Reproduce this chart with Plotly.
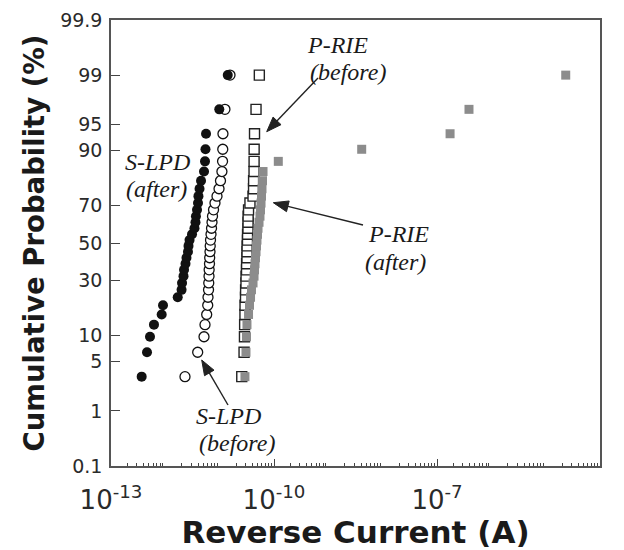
import math
import plotly.graph_objects as go
from statistics import NormalDist

# ---------------- data ----------------
cum_prob = [3.2, 6.5, 9.7, 12.9, 16.1, 19.4, 22.6, 25.8, 29.0, 32.3, 35.5,
            38.7, 41.9, 45.2, 48.4, 51.6, 54.8, 58.1, 61.3, 64.5, 67.7, 71.0,
            74.2, 77.4, 80.6, 83.9, 87.1, 90.3, 93.5, 96.8, 99.0]

slpd_after = [3.67e-13, 4.60e-13, 5.22e-13, 6.18e-13, 8.57e-13, 9.06e-13,
              1.69e-12, 1.99e-12, 2.03e-12, 2.16e-12, 2.21e-12, 2.35e-12,
              2.45e-12, 2.61e-12, 2.67e-12, 2.79e-12, 3.10e-12, 3.44e-12,
              3.59e-12, 3.66e-12, 3.83e-12, 3.99e-12, 4.07e-12, 4.26e-12,
              4.54e-12, 5.15e-12, 5.37e-12, 5.48e-12, 5.61e-12, 9.84e-12,
              1.41e-11]

slpd_before = [2.30e-12, 3.94e-12, 5.15e-12, 5.37e-12, 5.77e-12, 6.03e-12,
               6.10e-12, 6.24e-12, 6.30e-12, 6.37e-12, 6.40e-12, 6.50e-12,
               6.55e-12, 6.64e-12, 6.70e-12, 6.78e-12, 6.93e-12, 7.08e-12,
               7.23e-12, 7.38e-12, 7.71e-12, 8.20e-12, 8.93e-12, 9.73e-12,
               1.035e-11, 1.10e-11, 1.13e-11, 1.14e-11, 1.15e-11, 1.25e-11,
               1.55e-11]

prie_before = [2.55e-11, 2.81e-11, 2.86e-11, 2.88e-11, 2.92e-11, 2.93e-11,
               2.99e-11, 3.00e-11, 3.05e-11, 3.06e-11, 3.12e-11, 3.13e-11,
               3.18e-11, 3.19e-11, 3.20e-11, 3.25e-11, 3.26e-11, 3.32e-11,
               3.33e-11, 3.34e-11, 3.40e-11, 3.61e-11, 4.11e-11, 4.20e-11,
               4.21e-11, 4.29e-11, 4.30e-11, 4.31e-11, 4.38e-11, 4.67e-11,
               5.37e-11]

prie_after = [2.92e-11, 3.05e-11, 3.12e-11, 3.18e-11, 3.40e-11, 3.54e-11,
              3.70e-11, 3.85e-11, 4.11e-11, 4.29e-11, 4.38e-11, 4.47e-11,
              4.57e-11, 4.67e-11, 4.76e-11, 4.86e-11, 4.97e-11, 5.08e-11,
              5.30e-11, 5.52e-11, 5.65e-11, 5.77e-11, 5.89e-11, 6.01e-11,
              6.15e-11, 6.28e-11, 1.20e-10, 4.11e-9, 1.74e-7, 3.88e-7,
              2.34e-5]

prob_ticks = [0.1, 1, 5, 10, 30, 50, 70, 90, 95, 99, 99.9]
prob_tick_labels = ["0.1", "1", "5", "10", "30", "50", "70", "90", "95", "99", "99.9"]
decades = list(range(-13, -3))
labeled_decades = [-13, -10, -7, -4]

# ---------------- helpers ----------------
nd = NormalDist()


def probit(p):
    return nd.inv_cdf(p / 100.0)


z = [probit(p) for p in cum_prob]

fig = go.Figure()

# draw order: open circles, filled circles, open squares, gray squares
fig.add_trace(go.Scatter(
    x=slpd_before, y=z, mode="markers", name="S-LPD (before)",
    marker=dict(symbol="circle", size=10, color="white",
                line=dict(color="#111", width=1.3))))
fig.add_trace(go.Scatter(
    x=slpd_after, y=z, mode="markers", name="S-LPD (after)",
    marker=dict(symbol="circle", size=10, color="#111",
                line=dict(color="#111", width=0))))
fig.add_trace(go.Scatter(
    x=prie_before, y=z, mode="markers", name="P-RIE (before)",
    marker=dict(symbol="square", size=10, color="white",
                line=dict(color="#222", width=1.4))))
fig.add_trace(go.Scatter(
    x=prie_after, y=z, mode="markers", name="P-RIE (after)",
    marker=dict(symbol="square", size=9, color="#8c8c8c",
                line=dict(color="#8c8c8c", width=0))))

L, R, T, B = 111, 24, 20, 84
W, H = 624, 550
pw, ph = W - L - R, H - T - B


def px(xp):
    return (xp - L) / pw


def py(yp):
    return (H - B - yp) / ph


tick_font = dict(family="DejaVu Sans", size=26, color="#2a2a2a")
ytick_font = dict(family="DejaVu Sans", size=19, color="#2a2a2a")

fig.update_layout(
    xaxis=dict(
        type="log", range=[-13, -4],
        tickvals=[10.0 ** e for e in labeled_decades],
        ticktext=["10<sup>%d</sup>" % e for e in labeled_decades],
        ticks="inside", ticklen=7, tickwidth=1.2, tickcolor="#444",
        minor=dict(tickvals=[k * 10.0 ** e for e in decades[:-1] for k in range(2, 10)],
                   ticks="inside", ticklen=3.5, tickwidth=1, tickcolor="#444",
                   showgrid=False),
        showline=True, mirror=True, linecolor="#555", linewidth=1.5,
        showgrid=False, zeroline=False,
        tickfont=tick_font, ticklabelstandoff=10,
        title=dict(text="<b>Reverse Current (A)</b>",
                   font=dict(family="DejaVu Sans", size=31, color="#1a1a1a"), standoff=12),
    ),
    xaxis2=dict(
        type="log", range=[-13, -4], overlaying="x", anchor="y", side="bottom",
        tickvals=[10.0 ** e for e in decades],
        ticks="inside", ticklen=7, tickwidth=1.2, tickcolor="#444",
        showticklabels=False, showline=False, showgrid=False, zeroline=False,
    ),
    yaxis=dict(
        range=[probit(0.1), probit(99.9)],
        tickvals=[probit(p) for p in prob_ticks],
        ticktext=prob_tick_labels,
        ticks="inside", ticklen=9, tickwidth=1.2, tickcolor="#444",
        showline=True, mirror=True, linecolor="#555", linewidth=1.5,
        showgrid=False, zeroline=False,
        tickfont=ytick_font, ticklabelstandoff=3,
        title=dict(text="<b>Cumulative Probability (%)</b>",
                   font=dict(family="DejaVu Sans", size=27.5, color="#1a1a1a"), standoff=8),
    ),
)

label_font = dict(family="Liberation Serif", size=24, color="#1a1a1a")
labels = [
    ("S-LPD", 157, 162), ("(after)", 156, 189),
    ("P-RIE", 337, 45), ("(before)", 348, 72),
    ("P-RIE", 398, 234), ("(after)", 395, 262),
    ("S-LPD", 228, 416), ("(before)", 237, 443),
]
annotations = []
for txt, xx, yy in labels:
    annotations.append(dict(text="<i>%s</i>" % txt, x=px(xx), y=py(yy),
                            xref="paper", yref="paper", showarrow=False,
                            xanchor="center", yanchor="middle", font=label_font))

# arrows drawn as a line + filled triangular head (pixel geometry -> paper)
arrows = [((266.7, 131.7), (318, 78)),
          ((273.3, 202.7), (363, 225)),
          ((201.7, 360), (228, 405))]
head_len, head_half = 15, 5.5
shapes = []
for (tx, ty), (sx, sy) in arrows:
    dx, dy = tx - sx, ty - sy
    n = math.hypot(dx, dy)
    ux, uy = dx / n, dy / n
    bx, by = tx - ux * head_len, ty - uy * head_len
    nx, ny = -uy, ux
    shapes.append(dict(type="line", xref="paper", yref="paper",
                       x0=px(sx), y0=py(sy), x1=px(bx + ux * 2), y1=py(by + uy * 2),
                       line=dict(color="#222", width=1.4)))
    path = "M %f %f L %f %f L %f %f Z" % (
        px(tx), py(ty),
        px(bx + nx * head_half), py(by + ny * head_half),
        px(bx - nx * head_half), py(by - ny * head_half))
    shapes.append(dict(type="path", xref="paper", yref="paper", path=path,
                       fillcolor="#222", line=dict(color="#222", width=1)))

fig.update_layout(
    width=W, height=H,
    margin=dict(l=L, r=R, t=T, b=B, autoexpand=False),
    paper_bgcolor="white", plot_bgcolor="white",
    showlegend=False,
    annotations=annotations,
    shapes=shapes,
)

fig.write_html("out.html", config={"displayModeBar": False},
               post_script="document.body.style.margin='0px';")
